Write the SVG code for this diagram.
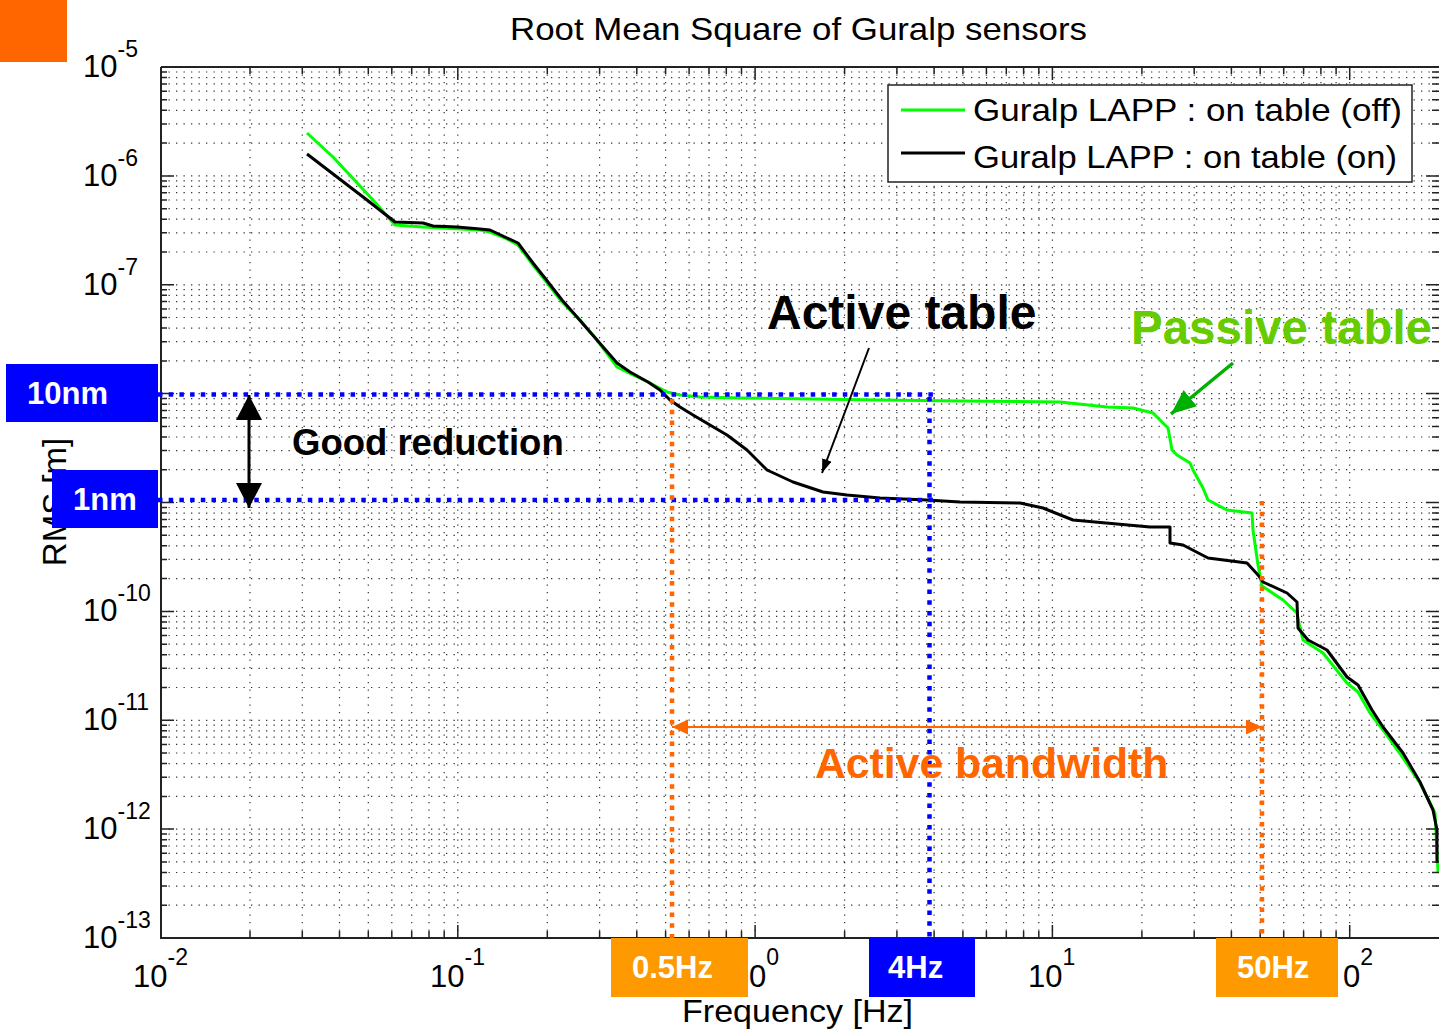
<svg xmlns="http://www.w3.org/2000/svg" width="1439" height="1031" viewBox="0 0 1439 1031">
<style>
.grid{fill:none;stroke:#000;stroke-width:1.2;stroke-dasharray:1.3 6.2;opacity:.8}
.tick{fill:none;stroke:#222;stroke-width:1.5}
.axis{fill:none;stroke:#222;stroke-width:2}
.tl{font-family:"Liberation Sans",Arial,sans-serif;font-size:31px;fill:#000}
.sup{font-size:23px}
.mt{font-family:"Liberation Sans",Arial,sans-serif;fill:#000}
.bold{font-family:"Liberation Sans",Arial,sans-serif;font-weight:bold}
.wt{font-family:"Liberation Sans",Arial,sans-serif;font-weight:bold;font-size:31px;fill:#fff}
.bdot{fill:none;stroke:#0000FF;stroke-width:4.5;stroke-dasharray:4.5 6.2}
.odot{fill:none;stroke:#FF6600;stroke-width:4.5;stroke-dasharray:4.5 6.2}
</style>
<defs>
<marker id="mOrange" markerUnits="userSpaceOnUse" markerWidth="16" markerHeight="15" refX="16" refY="7.5" orient="auto-start-reverse"><path d="M0 0L16 7.5L0 15z" fill="#FF6600"/></marker>
<marker id="mBlackBig" markerUnits="userSpaceOnUse" markerWidth="25" markerHeight="26" refX="25" refY="13" orient="auto-start-reverse"><path d="M0 0L25 13L0 26z" fill="#000"/></marker>
<marker id="mGreen" markerUnits="userSpaceOnUse" markerWidth="25" markerHeight="21" refX="25" refY="10.5" orient="auto"><path d="M0 0L25 10.5L0 21z" fill="#00B000"/></marker>
<marker id="mBlackSmall" markerUnits="userSpaceOnUse" markerWidth="14" markerHeight="10" refX="14" refY="5" orient="auto"><path d="M0 0L14 5L0 10z" fill="#000"/></marker>
</defs>
<rect x="0" y="0" width="1439" height="1031" fill="#fff"/>
<rect id="corner" x="0" y="0" width="67" height="62" fill="#FF6600"/>

<g id="plot-grid">
<path class="grid" d="M161 72h1278M161 77.6h1278M161 83.9h1278M161 91.2h1278M161 99.8h1278M161 110.3h1278M161 123.9h1278M161 143.1h1278M161 175.9h1278M161 180.9h1278M161 186.4h1278M161 192.7h1278M161 200h1278M161 208.7h1278M161 219.2h1278M161 232.8h1278M161 252h1278M161 284.8h1278M161 289.7h1278M161 295.3h1278M161 301.6h1278M161 308.9h1278M161 317.5h1278M161 328.1h1278M161 341.7h1278M161 360.9h1278M161 393.6h1278M161 398.6h1278M161 404.2h1278M161 410.5h1278M161 417.8h1278M161 426.4h1278M161 437h1278M161 450.6h1278M161 469.7h1278M161 502.5h1278M161 507.5h1278M161 513.1h1278M161 519.4h1278M161 526.7h1278M161 535.3h1278M161 545.8h1278M161 559.4h1278M161 578.6h1278M161 611.4h1278M161 616.4h1278M161 621.9h1278M161 628.2h1278M161 635.5h1278M161 644.2h1278M161 654.7h1278M161 668.3h1278M161 687.5h1278M161 720.3h1278M161 725.2h1278M161 730.8h1278M161 737.1h1278M161 744.4h1278M161 753h1278M161 763.6h1278M161 777.2h1278M161 796.4h1278M161 829.1h1278M161 834.1h1278M161 839.7h1278M161 846h1278M161 853.3h1278M161 861.9h1278M161 872.5h1278M161 886.1h1278M161 905.2h1278"/>
<path class="grid" d="M250 67V938M302.3 67V938M339.5 67V938M368.3 67V938M391.8 67V938M411.7 67V938M429 67V938M444.2 67V938M457.8 67V938M547.3 67V938M599.6 67V938M636.8 67V938M665.6 67V938M689.1 67V938M709 67V938M726.3 67V938M741.5 67V938M755.1 67V938M844.6 67V938M896.9 67V938M934.1 67V938M962.9 67V938M986.4 67V938M1006.3 67V938M1023.6 67V938M1038.8 67V938M1052.4 67V938M1141.9 67V938M1194.2 67V938M1231.4 67V938M1260.2 67V938M1283.7 67V938M1303.6 67V938M1320.9 67V938M1336.1 67V938M1349.7 67V938"/>
</g>

<g id="curves">
<polyline id="curve-off" fill="none" stroke="#00FF00" stroke-width="3" stroke-linejoin="round" points="307,133 333,157 373,200 395,225 423,227 480,230 490,232 505,238 518,245 533,265 548,284 562,302 580,320 597,340 617,367 633,375 650,383 667,392 680,395 700,397 740,398 813,399 880,400 960,401 1060,402 1107,407 1133,408 1153,413 1168,428 1172,450 1177,455 1190,463 1193,470 1203,488 1208,500 1227,510 1252,513 1253,530 1258,565 1262,586 1283,600 1297,613 1300,628 1303,640 1323,653 1347,683 1358,692 1370,713 1383,730 1403,758 1420,783 1435,813 1438,872"/>
<polyline id="curve-on" fill="none" stroke="#000" stroke-width="3" stroke-linejoin="round" points="307,154 367,200 395,222 423,223 433,226 457,227 480,229 490,230 518,243 533,263 548,282 562,300 577,317 597,340 617,363 630,372 648,382 660,390 670,400 680,407 693,415 727,435 747,450 767,470 793,482 823,492 847,495 880,498 927,500 960,502 1020,503 1043,508 1073,520 1150,527 1170,527 1170,543 1183,545 1208,558 1247,563 1258,575 1263,582 1287,593 1297,602 1298,628 1308,640 1327,650 1347,677 1358,685 1372,710 1383,727 1403,753 1420,782 1433,810 1437,830 1437,863"/>
</g>

<g id="axes">
<path class="axis" d="M161 67H1439M161 67V938H1439"/>
<path class="tick" d="M161 72h6M1439 72h-7M161 77.6h6M1439 77.6h-7M161 83.9h6M1439 83.9h-7M161 91.2h6M1439 91.2h-7M161 99.8h6M1439 99.8h-7M161 110.3h6M1439 110.3h-7M161 123.9h6M1439 123.9h-7M161 143.1h6M1439 143.1h-7M161 180.9h6M1439 180.9h-7M161 186.4h6M1439 186.4h-7M161 192.7h6M1439 192.7h-7M161 200h6M1439 200h-7M161 208.7h6M1439 208.7h-7M161 219.2h6M1439 219.2h-7M161 232.8h6M1439 232.8h-7M161 252h6M1439 252h-7M161 289.7h6M1439 289.7h-7M161 295.3h6M1439 295.3h-7M161 301.6h6M1439 301.6h-7M161 308.9h6M1439 308.9h-7M161 317.5h6M1439 317.5h-7M161 328.1h6M1439 328.1h-7M161 341.7h6M1439 341.7h-7M161 360.9h6M1439 360.9h-7M161 398.6h6M1439 398.6h-7M161 404.2h6M1439 404.2h-7M161 410.5h6M1439 410.5h-7M161 417.8h6M1439 417.8h-7M161 426.4h6M1439 426.4h-7M161 437h6M1439 437h-7M161 450.6h6M1439 450.6h-7M161 469.7h6M1439 469.7h-7M161 507.5h6M1439 507.5h-7M161 513.1h6M1439 513.1h-7M161 519.4h6M1439 519.4h-7M161 526.7h6M1439 526.7h-7M161 535.3h6M1439 535.3h-7M161 545.8h6M1439 545.8h-7M161 559.4h6M1439 559.4h-7M161 578.6h6M1439 578.6h-7M161 616.4h6M1439 616.4h-7M161 621.9h6M1439 621.9h-7M161 628.2h6M1439 628.2h-7M161 635.5h6M1439 635.5h-7M161 644.2h6M1439 644.2h-7M161 654.7h6M1439 654.7h-7M161 668.3h6M1439 668.3h-7M161 687.5h6M1439 687.5h-7M161 725.2h6M1439 725.2h-7M161 730.8h6M1439 730.8h-7M161 737.1h6M1439 737.1h-7M161 744.4h6M1439 744.4h-7M161 753h6M1439 753h-7M161 763.6h6M1439 763.6h-7M161 777.2h6M1439 777.2h-7M161 796.4h6M1439 796.4h-7M161 834.1h6M1439 834.1h-7M161 839.7h6M1439 839.7h-7M161 846h6M1439 846h-7M161 853.3h6M1439 853.3h-7M161 861.9h6M1439 861.9h-7M161 872.5h6M1439 872.5h-7M161 886.1h6M1439 886.1h-7M161 905.2h6M1439 905.2h-7M161 175.9h13M1439 175.9h-13M161 284.8h13M1439 284.8h-13M161 393.6h13M1439 393.6h-13M161 502.5h13M1439 502.5h-13M161 611.4h13M1439 611.4h-13M161 720.3h13M1439 720.3h-13M161 829.1h13M1439 829.1h-13"/>
<path class="tick" d="M250 67v7M250 938v-7M302.3 67v7M302.3 938v-7M339.5 67v7M339.5 938v-7M368.3 67v7M368.3 938v-7M391.8 67v7M391.8 938v-7M411.7 67v7M411.7 938v-7M429 67v7M429 938v-7M444.2 67v7M444.2 938v-7M547.3 67v7M547.3 938v-7M599.6 67v7M599.6 938v-7M636.8 67v7M636.8 938v-7M665.6 67v7M665.6 938v-7M689.1 67v7M689.1 938v-7M709 67v7M709 938v-7M726.3 67v7M726.3 938v-7M741.5 67v7M741.5 938v-7M844.6 67v7M844.6 938v-7M896.9 67v7M896.9 938v-7M934.1 67v7M934.1 938v-7M962.9 67v7M962.9 938v-7M986.4 67v7M986.4 938v-7M1006.3 67v7M1006.3 938v-7M1023.6 67v7M1023.6 938v-7M1038.8 67v7M1038.8 938v-7M1141.9 67v7M1141.9 938v-7M1194.2 67v7M1194.2 938v-7M1231.4 67v7M1231.4 938v-7M1260.2 67v7M1260.2 938v-7M1283.7 67v7M1283.7 938v-7M1303.6 67v7M1303.6 938v-7M1320.9 67v7M1320.9 938v-7M1336.1 67v7M1336.1 938v-7M457.8 67v13M457.8 938v-13M755.1 67v13M755.1 938v-13M1052.4 67v13M1052.4 938v-13M1349.7 67v13M1349.7 938v-13"/>
</g>

<g id="axis-labels">
<text class="mt" x="510" y="40" font-size="32" textLength="577" lengthAdjust="spacingAndGlyphs">Root Mean Square of Guralp sensors</text>
<text class="tl" x="83" y="77">10<tspan class="sup" dy="-20">-5</tspan></text>
<text class="tl" x="83" y="186">10<tspan class="sup" dy="-20">-6</tspan></text>
<text class="tl" x="83" y="295">10<tspan class="sup" dy="-20">-7</tspan></text>
<text class="tl" x="83" y="621">10<tspan class="sup" dy="-20">-10</tspan></text>
<text class="tl" x="83" y="730">10<tspan class="sup" dy="-20">-11</tspan></text>
<text class="tl" x="83" y="839">10<tspan class="sup" dy="-20">-12</tspan></text>
<text class="tl" x="83" y="948">10<tspan class="sup" dy="-20">-13</tspan></text>
<text class="tl" x="133" y="987">10<tspan class="sup" dy="-22">-2</tspan></text>
<text class="tl" x="430" y="987">10<tspan class="sup" dy="-22">-1</tspan></text>
<text class="tl" x="749" y="987">0<tspan class="sup" dy="-22">0</tspan></text>
<text class="tl" x="1028" y="987">10<tspan class="sup" dy="-22">1</tspan></text>
<text class="tl" x="1343" y="987">0<tspan class="sup" dy="-22">2</tspan></text>
<text class="mt" x="682" y="1022" font-size="31" textLength="231" lengthAdjust="spacingAndGlyphs">Frequency [Hz]</text>
<text class="mt" font-size="33" text-anchor="middle" transform="translate(66,502) rotate(-90)">RMS [m]</text>
</g>

<g id="legend">
<rect x="888" y="85" width="524" height="97" fill="#fff" stroke="#222" stroke-width="1.5"/>
<path d="M901 110H965" stroke="#00FF00" stroke-width="3"/>
<path d="M901 153H965" stroke="#000" stroke-width="3"/>
<text class="mt" x="973" y="121" font-size="32" textLength="429" lengthAdjust="spacingAndGlyphs">Guralp LAPP : on table (off)</text>
<text class="mt" x="973" y="168" font-size="32" textLength="424" lengthAdjust="spacingAndGlyphs">Guralp LAPP : on table (on)</text>
</g>

<g id="connectors">
<path class="bdot" d="M158 394.5H937"/>
<path class="bdot" d="M158 500H937"/>
<path class="bdot" d="M929.5 397V938"/>
<path class="odot" d="M672 399V938"/>
<path class="odot" d="M1262 501V938"/>
<path d="M672 727H1262" stroke="#FF6600" stroke-width="2" marker-start="url(#mOrange)" marker-end="url(#mOrange)"/>
<path d="M249 395V508" stroke="#000" stroke-width="3" marker-start="url(#mBlackBig)" marker-end="url(#mBlackBig)"/>
<path d="M1233 363L1171 414" stroke="#00B000" stroke-width="3.5" marker-end="url(#mGreen)"/>
<path d="M869 348L822 473" stroke="#000" stroke-width="2" marker-end="url(#mBlackSmall)"/>
</g>

<g id="label-10nm"><rect x="6" y="364" width="152" height="58" fill="#0000FF"/><text class="wt" x="27" y="404">10nm</text></g>
<g id="label-1nm"><rect x="52" y="470" width="106" height="58" fill="#0000FF"/><text class="wt" x="73" y="510">1nm</text></g>
<g id="label-05hz"><rect x="611" y="938" width="137" height="59" fill="#FF9900"/><text class="wt" x="632" y="978">0.5Hz</text></g>
<g id="label-4hz"><rect x="869" y="938" width="106" height="59" fill="#0000FF"/><text class="wt" x="888" y="978">4Hz</text></g>
<g id="label-50hz"><rect x="1216" y="938" width="122" height="59" fill="#FF9900"/><text class="wt" x="1237" y="978">50Hz</text></g>
<g id="label-good"><text class="bold" x="292" y="455" font-size="36.5" fill="#000">Good reduction</text></g>
<g id="label-active"><text class="bold" x="767" y="329" font-size="48" fill="#000">Active table</text></g>
<g id="label-passive"><text class="bold" x="1131" y="344" font-size="47.5" fill="#66CC00">Passive table</text></g>
<g id="label-bandwidth"><text class="bold" x="815" y="778" font-size="42.7" fill="#FF6600">Active bandwidth</text></g>
</svg>
